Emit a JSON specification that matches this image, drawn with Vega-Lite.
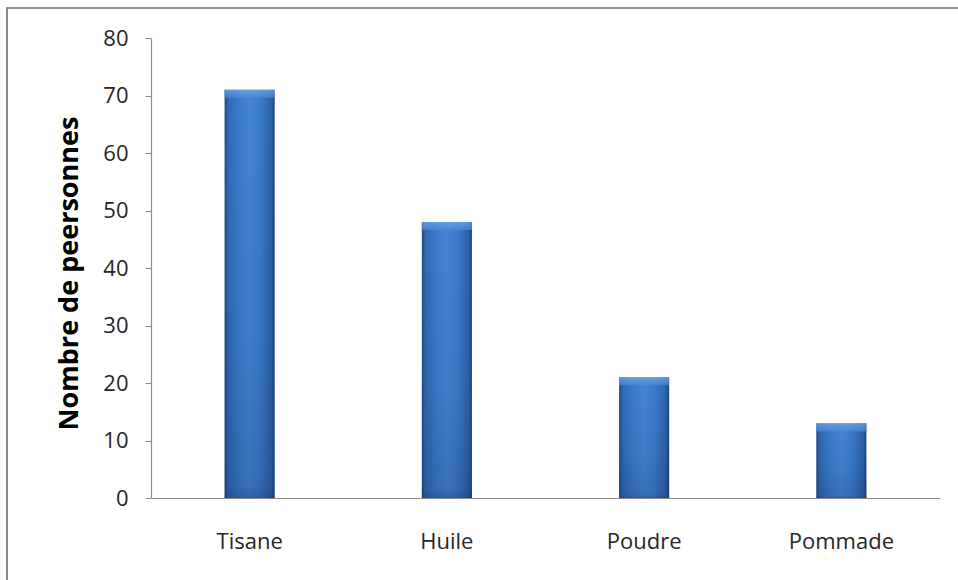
{
  "$schema": "https://vega.github.io/schema/vega-lite/v6.json",
  "autosize": "none",
  "width": 954,
  "height": 575,
  "padding": {"left": 7, "top": 8, "right": -3, "bottom": -3},
  "background": "white",
  "config": {
    "view": {"stroke": "#8c8c8c", "strokeWidth": 2},
    "font": "Open Sans",
    "axis": {"grid": false}
  },
  "data": {
    "values": [
      {"forme": "Tisane", "personnes": 71},
      {"forme": "Huile", "personnes": 48},
      {"forme": "Poudre", "personnes": 21},
      {"forme": "Pommade", "personnes": 13}
    ]
  },
  "encoding": {
    "x": {
      "field": "forme",
      "type": "nominal",
      "sort": null,
      "scale": {"range": [144, 933], "paddingInner": 0.746, "paddingOuter": 0.373},
      "axis": {
        "orient": "bottom",
        "offset": -85,
        "title": null,
        "ticks": false,
        "tickSize": 0,
        "labelAngle": 0,
        "labelPadding": 33,
        "labelFontSize": 22,
        "labelColor": "#262626",
        "domainColor": "#8c8c8c",
        "domainWidth": 1.2
      }
    }
  },
  "layer": [
    {
      "mark": {
        "type": "bar",
        "color": {
          "gradient": "linear",
          "x1": 0, "y1": 0, "x2": 1, "y2": 0,
          "stops": [
            {"offset": 0, "color": "#1d4a86"},
            {"offset": 0.07, "color": "#3069b5"},
            {"offset": 0.3, "color": "#3c7ccd"},
            {"offset": 0.5, "color": "#4484d5"},
            {"offset": 0.7, "color": "#3c7ccd"},
            {"offset": 0.93, "color": "#2d63ab"},
            {"offset": 1, "color": "#1b4379"}
          ]
        }
      },
      "encoding": {
        "y": {
          "field": "personnes",
          "type": "quantitative",
          "scale": {"domain": [0, 80], "nice": false, "range": [490, 30]},
          "axis": {
            "orient": "left",
            "offset": -144,
            "title": "Nombre de peersonnes",
            "titleFontSize": 27,
            "titleFontWeight": "bold",
            "titleColor": "#000000",
            "titlePadding": 19,
            "titleY": 265,
            "values": [0, 10, 20, 30, 40, 50, 60, 70, 80],
            "tickSize": 6,
            "tickColor": "#8c8c8c",
            "labelPadding": 17,
            "labelFontSize": 22,
            "labelColor": "#262626",
            "domainColor": "#8c8c8c",
            "domainWidth": 1.2
          }
        }
      }
    },
    {
      "mark": {
        "type": "bar",
        "color": {
          "gradient": "linear",
          "x1": 0, "y1": 0, "x2": 0, "y2": 1,
          "stops": [
            {"offset": 0, "color": "rgba(10,30,70,0)"},
            {"offset": 0.6, "color": "rgba(10,30,70,0.08)"},
            {"offset": 0.97, "color": "rgba(10,30,70,0.2)"},
            {"offset": 1, "color": "rgba(10,30,70,0.35)"}
          ]
        }
      },
      "encoding": {
        "y": {"field": "personnes", "type": "quantitative"}
      }
    },
    {
      "mark": {
        "type": "tick",
        "orient": "horizontal",
        "size": 50,
        "thickness": 8,
        "yOffset": 4,
        "color": {
          "gradient": "linear",
          "x1": 0, "y1": 0, "x2": 0, "y2": 1,
          "stops": [
            {"offset": 0, "color": "#74aaeb"},
            {"offset": 1, "color": "#4b88d6"}
          ]
        }
      },
      "encoding": {
        "y": {"field": "personnes", "type": "quantitative"}
      }
    }
  ]
}
